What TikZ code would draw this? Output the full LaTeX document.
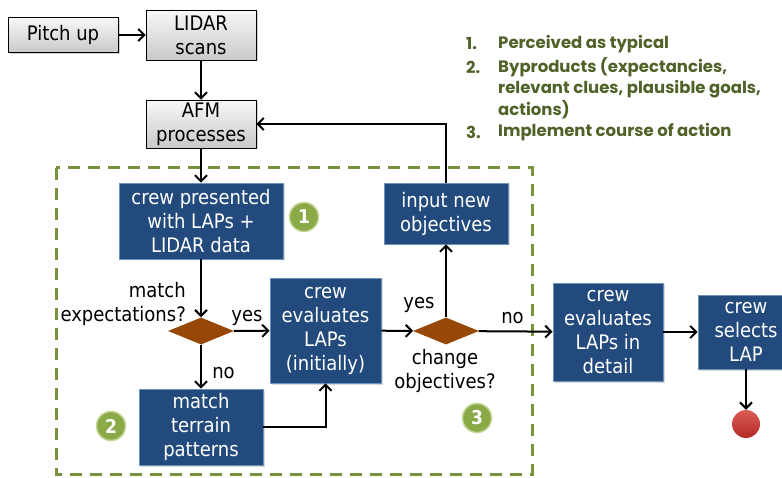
\documentclass[tikz,border=0pt]{standalone}
\usepackage{fontspec}
\setmainfont{DejaVu Sans Condensed}
\newfontfamily\legendfont{Poppins}
\usetikzlibrary{arrows.meta,shapes.geometric,shadows,calc}

\definecolor{lapblue}{RGB}{34,74,124}
\definecolor{lapedge}{RGB}{110,145,190}
\definecolor{choice}{RGB}{151,72,6}
\definecolor{olive}{RGB}{119,147,60}
\definecolor{legendgreen}{RGB}{79,98,40}
\definecolor{badgefill}{RGB}{137,170,70}
\definecolor{badgeedge}{RGB}{196,214,150}
\definecolor{stopred}{RGB}{210,50,45}

\tikzset{
    txt/.style={font=\fontsize{20}{24}\selectfont, align=center, inner sep=0pt},
    graybox/.style={txt, draw=black, line width=0.8pt, top color=gray!6, bottom color=gray!42,
        drop shadow={shadow xshift=1.5pt, shadow yshift=-1.5pt, opacity=0.35}},
    bluebox/.style={txt, draw=lapedge, line width=0.8pt, fill=lapblue, text=white,
        drop shadow={shadow xshift=1.5pt, shadow yshift=-1.5pt, opacity=0.3}},
    choice/.style={diamond, fill=choice, inner sep=0pt, minimum width=66pt, minimum height=27pt, aspect=2.4},
    badge/.style={circle, fill=badgefill, draw=badgeedge, line width=1.5pt, minimum size=29pt, inner sep=0pt,
        text=white, font=\fontsize{19}{19}\selectfont\bfseries},
    flow/.style={line width=2pt, -{Straight Barb[length=6pt,width=12pt]}},
    legend/.style={font=\legendfont\fontsize{16.5}{16.5}\selectfont\bfseries, text=legendgreen, anchor=west, inner sep=0pt},
}

\begin{document}
\begin{tikzpicture}[x=1pt, y=-1pt]
\useasboundingbox (0,0) rectangle (782,478);
\clip (0,0) rectangle (782,478);

% Variables: 1 := position, 2 := number.
\def\badge(#1)#2{
    \node[badge] (badge#2) at (#1) {#2};
}

\draw[olive, line width=3pt, dash pattern=on 12pt off 8pt] (56,168) rectangle (532,474);

\node[graybox, minimum width=110pt, minimum height=35pt] (pitch) at (63,35) {Pitch up};
\node[graybox, minimum width=110pt, minimum height=50pt] (lidar) at (201,35) {LIDAR\\scans};
\node[graybox, minimum width=110pt, minimum height=48pt] (afm) at (201,124) {AFM\\processes};

\node[bluebox, minimum width=164pt, minimum height=76pt] (presented) at (201,221) {crew presented\\with LAPs +\\LIDAR data};
\node[choice] (match) at (201,331) {};
\node[bluebox, minimum width=124pt, minimum height=76pt] (terrain) at (201,427) {match\\terrain\\patterns};
\node[bluebox, minimum width=111pt, minimum height=105pt] (initial) at (325.5,330.5) {crew\\evaluates\\LAPs\\(initially)};
\node[choice] (change) at (446,331) {};
\node[bluebox, minimum width=124pt, minimum height=61pt] (input) at (446,213.5) {input new\\objectives};
\node[bluebox, minimum width=110pt, minimum height=98pt] (detail) at (608,332) {crew\\evaluates\\LAPs in\\detail};
\node[bluebox, minimum width=96pt, minimum height=74pt] (select) at (746,332) {crew\\selects\\LAP};
\node[circle, minimum size=28pt, inner sep=0pt, top color=stopred!80!white, bottom color=stopred!85!black] (stop) at (746,424) {};

\draw[flow] (pitch) -- (lidar);
\draw[flow] (lidar) -- (afm);
\draw[flow] (afm) -- (presented);
\draw[flow] (presented) -- (match);
\draw[flow] (match) -- (initial);
\draw[flow] (match) -- (terrain);
\draw[flow] (terrain.east) -| (initial.south);
\draw[flow] (initial) -- (change);
\draw[flow] (change) -- (input);
\draw[flow] (input.north) |- (afm.east);
\draw[flow] (change) -- (detail);
\draw[flow] (detail) -- (select);
\draw[flow] (select) -- (stop);

\node[txt, align=right, anchor=east] (matchq) at (186,303.5) {match\\expectations?};
\node[txt] (yes1) at (247,318) {yes};
\node[txt] (no1) at (223.5,373) {no};
\node[txt] (yes2) at (419,305) {yes};
\node[txt] (no2) at (512.5,318) {no};
\node[txt] (changeq) at (445,371) {change\\objectives?};

\badge(304,217){1}
\badge(111,426){2}
\badge(477,418){3}

\node[legend] (n1) at (466,44) {1.};
\node[legend] (l1) at (498,44) {Perceived as typical};
\node[legend] (n2) at (466,67) {2.};
\node[legend] (l2) at (498,67) {Byproducts (expectancies,};
\node[legend] (l3) at (498,89) {relevant clues, plausible goals,};
\node[legend] (l4) at (498,110) {actions)};
\node[legend] (n3) at (466,132) {3.};
\node[legend] (l5) at (498,132) {Implement course of action};
\end{tikzpicture}
\end{document}
